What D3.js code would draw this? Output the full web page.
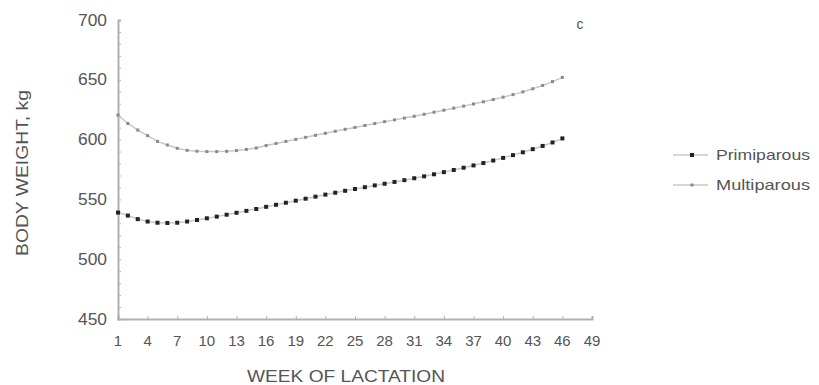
<!DOCTYPE html>
<html>
<head>
<meta charset="utf-8">
<script src="https://cdn.jsdelivr.net/npm/d3@7"></script>
<style>
  body { margin: 0; background: #fff; }
  text { font-family: "Liberation Sans", Arial, sans-serif; fill: #555; }
</style>
</head>
<body>
<div id="chart"></div>
<script>
// week of lactation 1..46
var weeks = [1, 2, 3, 4, 5, 6, 7, 8, 9, 10, 11, 12, 13, 14, 15, 16, 17, 18, 19, 20, 21, 22, 23,
  24, 25, 26, 27, 28, 29, 30, 31, 32, 33, 34, 35, 36, 37, 38, 39, 40, 41, 42, 43, 44, 45, 46];

var primiparous = [539, 536.5, 533.5, 531.5, 530.5, 530.3, 530.5, 531.5, 532.8, 534.2, 535.6, 537.2,
  538.8, 540.4, 542, 543.8, 545.5, 547.2, 548.9, 550.6, 552.3, 554, 555.6, 557.2, 558.7, 560.2,
  561.7, 563.1, 564.6, 566.1, 567.7, 569.3, 571, 572.8, 574.6, 576.5, 578.4, 580.4, 582.5, 584.7,
  587, 589.4, 592, 594.7, 597.6, 601];

var multiparous = [620.5, 613.5, 608, 603.3, 598.5, 595.5, 592.7, 591, 590.3, 590, 590, 590.2,
  590.8, 591.8, 593, 595, 596.8, 598.5, 600.2, 601.9, 603.6, 605.3, 607, 608.6, 610.2, 611.8,
  613.4, 615, 616.5, 618, 619.5, 621.2, 622.9, 624.6, 626.3, 628, 629.8, 631.6, 633.5, 635.5,
  637.6, 639.9, 642.5, 645.3, 648.5, 652];

var xTicks = [1, 4, 7, 10, 13, 16, 19, 22, 25, 28, 31, 34, 37, 40, 43, 46, 49];
var yTicks = [450, 500, 550, 600, 650, 700];
var seriesNames = ["Primiparous", "Multiparous"];

var svgWidth = 819;
var svgHeight = 385;

var svg = d3.select("#chart")
  .append("svg")
  .attr("width", svgWidth)
  .attr("height", svgHeight);

var x = d3.scaleLinear().domain([1, 49]).range([118, 592]);
var y = d3.scaleLinear().domain([450, 700]).range([319, 20]);

var axisColor = "#b0b0b0";

// y axis with minor ticks every 10 kg
var yAxis = svg.append("g")
  .attr("transform", "translate(118,0)")
  .call(d3.axisRight(y).tickValues(d3.range(450, 701, 10)).tickSize(3).tickFormat(""));
yAxis.select(".domain").attr("stroke", axisColor).attr("stroke-width", 2);
yAxis.selectAll(".tick line").attr("stroke", axisColor);

svg.append("g").selectAll("text")
  .data(yTicks)
  .enter()
  .append("text")
  .attr("x", 107)
  .attr("y", d => y(d))
  .attr("dy", "0.35em")
  .attr("text-anchor", "end")
  .attr("font-size", "16px")
  .attr("textLength", 29)
  .attr("lengthAdjust", "spacingAndGlyphs")
  .text(d => d);

// x axis, ticks point up into the plot
var xAxis = svg.append("g")
  .attr("transform", "translate(0,319)")
  .call(d3.axisTop(x).tickValues(xTicks).tickSize(3).tickFormat(""));
xAxis.select(".domain").attr("stroke", axisColor).attr("stroke-width", 2);
xAxis.selectAll(".tick line").attr("stroke", axisColor);

svg.append("g").selectAll("text")
  .data(xTicks)
  .enter()
  .append("text")
  .attr("x", d => x(d))
  .attr("y", 341)
  .attr("dy", "0.35em")
  .attr("text-anchor", "middle")
  .attr("font-size", "15px")
  .text(d => d);

// axis titles
svg.append("text")
  .attr("x", 346)
  .attr("y", 382)
  .attr("text-anchor", "middle")
  .attr("font-size", "16px")
  .attr("textLength", 198)
  .attr("lengthAdjust", "spacingAndGlyphs")
  .text("WEEK OF LACTATION");

svg.append("text")
  .attr("transform", "translate(28,173) rotate(-90)")
  .attr("text-anchor", "middle")
  .attr("font-size", "16px")
  .attr("textLength", 166)
  .attr("lengthAdjust", "spacingAndGlyphs")
  .text("BODY WEIGHT, kg");

svg.append("text")
  .attr("x", 580)
  .attr("y", 29)
  .attr("text-anchor", "middle")
  .attr("font-size", "14px")
  .text("c");

// series
var series = [
  { name: seriesNames[0], values: primiparous, color: "#222", size: 4 },
  { name: seriesNames[1], values: multiparous, color: "#8a8a8a", size: 3 }
];

var line = d3.line()
  .x((d, i) => x(weeks[i]))
  .y(d => y(d));

series.forEach(function(s) {
  svg.append("path")
    .datum(s.values)
    .attr("fill", "none")
    .attr("stroke", "#c8c8c8")
    .attr("stroke-width", 1.5)
    .attr("d", line);

  svg.append("g").selectAll("rect")
    .data(s.values)
    .enter()
    .append("rect")
    .attr("x", (d, i) => x(weeks[i]) - s.size / 2)
    .attr("y", d => y(d) - s.size / 2)
    .attr("width", s.size)
    .attr("height", s.size)
    .attr("fill", s.color);
});

// legend
var legend = svg.append("g");
series.forEach(function(s, i) {
  var ly = 155 + i * 30;
  legend.append("line")
    .attr("x1", 673).attr("x2", 708)
    .attr("y1", ly).attr("y2", ly)
    .attr("stroke", "#c8c8c8")
    .attr("stroke-width", 1.5);
  legend.append("rect")
    .attr("x", 692 - s.size / 2)
    .attr("y", ly - s.size / 2)
    .attr("width", s.size)
    .attr("height", s.size)
    .attr("fill", s.color);
  legend.append("text")
    .attr("x", 716)
    .attr("y", ly)
    .attr("dy", "0.35em")
    .attr("font-size", "15px")
    .attr("textLength", 94)
    .attr("lengthAdjust", "spacingAndGlyphs")
    .text(s.name);
});
</script>
</body>
</html>
